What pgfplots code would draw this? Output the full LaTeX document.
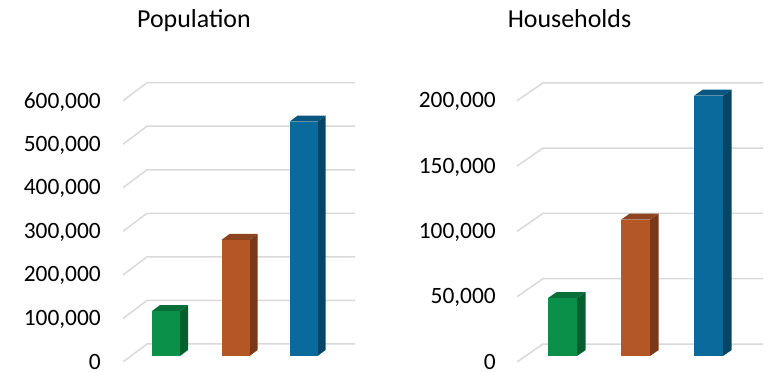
\documentclass[border=0pt]{standalone}
\usepackage{fontspec}
\setmainfont{Carlito}
\usepackage{pgfplots}
\pgfplotsset{compat=1.18}
\definecolor{gridc}{HTML}{D9D9D9}
\definecolor{gfront}{HTML}{0B9049}
\definecolor{gtop}{HTML}{0A6E38}
\definecolor{gside}{HTML}{065F2F}
\definecolor{ofront}{HTML}{B35726}
\definecolor{otop}{HTML}{8D4420}
\definecolor{oside}{HTML}{793817}
\definecolor{bfront}{HTML}{0A6A9C}
\definecolor{btop}{HTML}{0A5680}
\definecolor{bside}{HTML}{064565}

% large-number arithmetic with the fpu
\newcommand\fcalc[2]{\begingroup\pgfkeys{/pgf/fpu=true,/pgf/fpu/output format=fixed}\pgfmathparse{#2}\xdef#1{\pgfmathresult}\endgroup}

% 3D bar: #1 x centre, #2 value, #3 half width, #4 depth dx, #5 depth dy (y units), #6 colour prefix
\newcommand\tdbar[6]{%
  \pgfmathsetmacro\xa{#1-#3}\pgfmathsetmacro\xb{#1+#3}%
  \pgfmathsetmacro\xc{#1-#3+#4}\pgfmathsetmacro\xd{#1+#3+#4}%
  \fcalc\ytop{#2+#5}%
  \addplot[fill=#6side, draw=none, forget plot] coordinates {(\xb,0) (\xd,#5) (\xd,\ytop) (\xb,#2)};
  \addplot[fill=#6top, draw=none, forget plot] coordinates {(\xa,#2) (\xc,\ytop) (\xd,\ytop) (\xb,#2)};
  \addplot[fill=#6front, draw=none, forget plot] coordinates {(\xa,0) (\xa,#2) (\xb,#2) (\xb,0)};
}
% floor/back-wall gridline: #1 value, #2 front offset, #3 back offset, #4 x front, #5 x back, #6 x end
\newcommand\gline[6]{%
  \fcalc\ga{#1+#3}\fcalc\gb{#1+#2}%
  \addplot[gridc, line width=1.5bp, forget plot] coordinates {(#4,\gb) (#5,\ga) (#6,\ga)};
}

\pgfplotsset{
  tdstyle/.style={
    scale only axis, anchor=south west, height=282bp,
    axis line style={draw=none}, tick style={draw=none}, major tick length=0pt,
    xtick=\empty, no marks, scaled y ticks=false,
    /pgf/number format/assume math mode=true,
    yticklabel style={font=\fontsize{23.5}{28}\selectfont, inner sep=0pt, anchor=east,
      text depth=0pt,
      /pgf/number format/fixed, /pgf/number format/1000 sep={,}},
  }
}

\begin{document}
\begin{tikzpicture}
\path[use as bounding box] (0,0) rectangle (772bp,373bp);

\node[font=\fontsize{26}{30}\selectfont, anchor=base] at (194bp,345.7bp) {Population};
\node[font=\fontsize{26}{30}\selectfont, anchor=base] at (569.5bp,345.7bp) {Households};

% ---------------- Population ----------------
\begin{axis}[tdstyle, at={(123bp,11bp)}, width=232bp,
  xmin=123, xmax=355, ymin=-13777, ymax=633751,
  ytick={0,100000,200000,300000,400000,500000,600000},
  yticklabel style={xshift=-22bp, yshift=-5.5bp}]
\gline{0}{-13777}{27554}{123}{147}{355}
\gline{100000}{-13777}{27554}{123}{147}{355}
\gline{200000}{-13777}{27554}{123}{147}{355}
\gline{300000}{-13777}{27554}{123}{147}{355}
\gline{400000}{-13777}{27554}{123}{147}{355}
\gline{500000}{-13777}{27554}{123}{147}{355}
\gline{600000}{-13777}{27554}{123}{147}{355}
\tdbar{166}{103300}{14}{8}{13777}{g}
\tdbar{235.5}{266400}{14}{8}{13777}{o}
\tdbar{303.5}{538000}{14}{8}{13777}{b}
\end{axis}

% ---------------- Households ----------------
\begin{axis}[tdstyle, at={(517bp,11bp)}, width=246bp,
  xmin=517, xmax=763, ymin=-4594, ymax=211333,
  ytick={0,50000,100000,150000,200000},
  yticklabel style={xshift=-21bp, yshift=-5.5bp}]
\gline{0}{-4594}{9188}{517}{543}{763}
\gline{50000}{-4594}{9188}{517}{543}{763}
\gline{100000}{-4594}{9188}{517}{543}{763}
\gline{150000}{-4594}{9188}{517}{543}{763}
\gline{200000}{-4594}{9188}{517}{543}{763}
\tdbar{562.5}{44400}{14.5}{8.7}{4594}{g}
\tdbar{635.5}{104400}{14.5}{8.7}{4594}{o}
\tdbar{708.5}{199300}{14.5}{8.7}{4594}{b}
\end{axis}
\end{tikzpicture}
\end{document}
